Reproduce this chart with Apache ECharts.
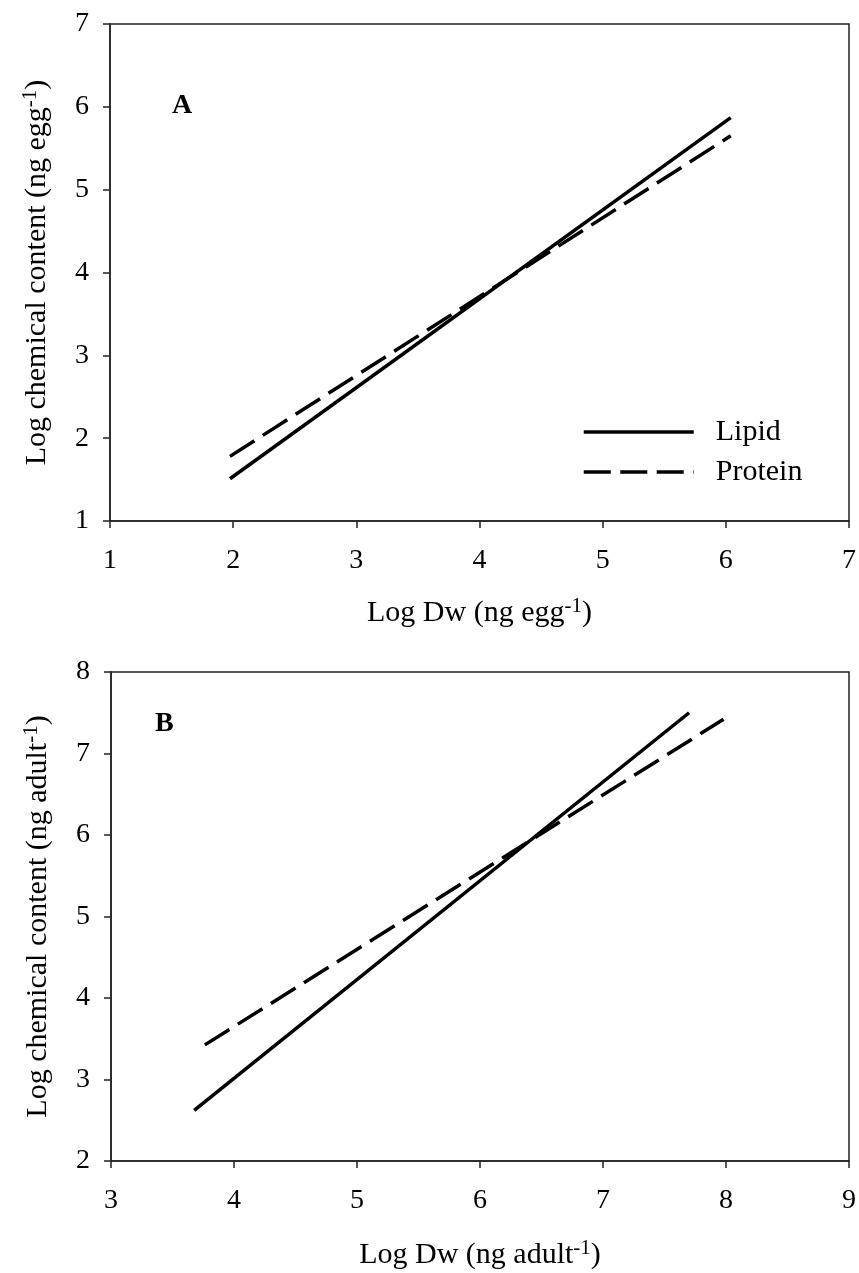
<!DOCTYPE html>
<html>
<head>
<meta charset="utf-8">
<script src="https://cdn.jsdelivr.net/npm/echarts@6/dist/echarts.min.js"></script>
<style>
  html, body { margin: 0; padding: 0; background: #fff; }
  #chart { width: 859px; height: 1273px; }
</style>
</head>
<body>
<div id="chart"></div>
<script>
// ---- Data ----
const seriesNames = ['Lipid', 'Protein'];

// Panel A: eggs
const lipidA_x   = [1.974, 6.04];
const lipidA_y   = [1.51, 5.87];
const proteinA_x = [1.974, 6.04];
const proteinA_y = [1.78, 5.65];

// Panel B: adults
const lipidB_x   = [3.676, 7.70];
const lipidB_y   = [2.62, 7.50];
const proteinB_x = [3.763, 7.98];
const proteinB_y = [3.425, 7.42];

// Axis ranges / ticks
const xTicksA = [1, 2, 3, 4, 5, 6, 7];
const yTicksA = [1, 2, 3, 4, 5, 6, 7];
const xTicksB = [3, 4, 5, 6, 7, 8, 9];
const yTicksB = [2, 3, 4, 5, 6, 7, 8];

const panelLabels = ['A', 'B'];

// ---- Helpers ----
const FONT = '"Liberation Serif", "Times New Roman", serif';
const zip = (xs, ys) => xs.map((x, i) => [x, ys[i]]);
const DASH = [29, 10];

const richName = {
  n: { fontSize: 30, fontFamily: FONT, color: '#000', lineHeight: 34 },
  s: { fontSize: 21, fontFamily: FONT, color: '#000', verticalAlign: 'bottom', padding: [0, 0, 13, 0], lineHeight: 21 }
};

function xAxis(gridIndex, ticks, unit, gap) {
  return {
    type: 'value', gridIndex,
    min: ticks[0], max: ticks[ticks.length - 1], interval: ticks[1] - ticks[0],
    name: '{n|Log Dw (ng ' + unit + '}{s|-1}{n|)}',
    nameLocation: 'middle', nameGap: gap,
    nameTextStyle: { rich: richName },
    axisLine: { show: true, onZero: false, lineStyle: { color: '#222', width: 1.5 } },
    axisTick: { show: true, inside: false, length: 7, lineStyle: { color: '#222', width: 1.5 } },
    axisLabel: { fontSize: 28, fontFamily: FONT, color: '#000', margin: 26 },
    splitLine: { show: false }
  };
}
function yAxis(gridIndex, ticks, unit) {
  return {
    type: 'value', gridIndex,
    min: ticks[0], max: ticks[ticks.length - 1], interval: ticks[1] - ticks[0],
    name: '{n|Log chemical content (ng ' + unit + '}{s|-1}{n|)}',
    nameLocation: 'middle', nameGap: 56, nameRotate: 90,
    nameTextStyle: { rich: richName },
    axisLine: { show: true, onZero: false, lineStyle: { color: '#222', width: 1.5 } },
    axisTick: { show: true, inside: false, length: 7, lineStyle: { color: '#222', width: 1.5 } },
    axisLabel: { fontSize: 28, fontFamily: FONT, color: '#000', margin: 21 },
    splitLine: { show: false }
  };
}
function lineSeries(name, idx, data, dashed) {
  return {
    name, type: 'line', xAxisIndex: idx, yAxisIndex: idx,
    data, symbol: 'none', silent: true, animation: false,
    lineStyle: { color: '#000', width: 3.5, type: dashed ? DASH : 'solid', cap: 'butt' },
    itemStyle: { color: '#000' }
  };
}

const chart = echarts.init(document.getElementById('chart'), null, { renderer: 'canvas' });
chart.setOption({
  animation: false,
  backgroundColor: '#fff',
  grid: [
    { left: 110, top: 24, width: 739, height: 497, show: true, borderColor: '#222', borderWidth: 1.5, backgroundColor: 'transparent' },
    { left: 111, top: 672, width: 739, height: 497, show: true, borderColor: '#222', borderWidth: 1.5, backgroundColor: 'transparent' }
  ],
  xAxis: [xAxis(0, xTicksA, 'egg', 75), xAxis(1, xTicksB, 'adult', 77)],
  yAxis: [yAxis(0, yTicksA, 'egg'), yAxis(1, yTicksB, 'adult')],
  legend: {
    show: true,
    data: [
      { name: seriesNames[0], lineStyle: { width: 3.5, type: 'solid', color: '#000' } },
      { name: seriesNames[1], lineStyle: { width: 3.5, type: [27, 9.5], color: '#000' } }
    ],
    orient: 'vertical',
    left: 582, top: 417, padding: 0,
    itemWidth: 110, itemHeight: 14, itemGap: 10,
    itemStyle: { opacity: 0 },
    lineStyle: { width: 3.5, color: '#000' },
    textStyle: { fontSize: 30, fontFamily: FONT, color: '#000', padding: [0, 0, 0, 17] },
    selectedMode: false
  },
  graphic: [
    { type: 'text', left: 172, top: 92, style: { text: panelLabels[0], font: 'bold 28px ' + FONT, fill: '#000' } },
    { type: 'text', left: 155, top: 710, style: { text: panelLabels[1], font: 'bold 28px ' + FONT, fill: '#000' } }
  ],
  series: [
    lineSeries(seriesNames[0], 0, zip(lipidA_x, lipidA_y), false),
    lineSeries(seriesNames[1], 0, zip(proteinA_x, proteinA_y), true),
    lineSeries(seriesNames[0], 1, zip(lipidB_x, lipidB_y), false),
    lineSeries(seriesNames[1], 1, zip(proteinB_x, proteinB_y), true)
  ]
});
</script>
</body>
</html>
